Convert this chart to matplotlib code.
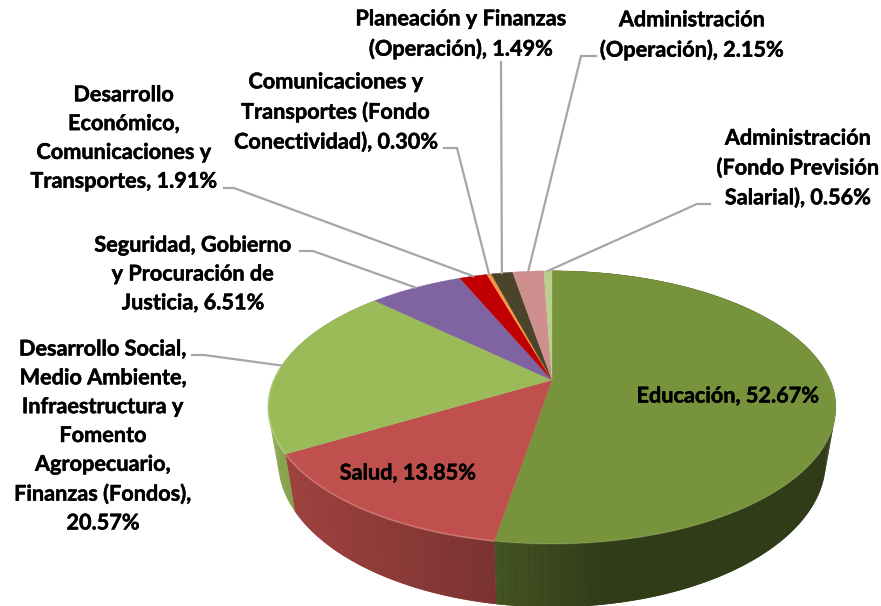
import numpy as np
import matplotlib
matplotlib.use('Agg')
import matplotlib.pyplot as plt
import matplotlib.colors as mc
import matplotlib.patheffects as pe

plt.rcParams['font.family'] = ['Lato', 'DejaVu Sans']

# datos del pastel, en sentido horario desde arriba
sectores = ['Educación', 'Salud', 'Desarrollo Social', 'Seguridad', 'Desarrollo Económico',
            'Comunicaciones Fondo', 'Planeación', 'Administración Op', 'Administración Fondo']
valores = [52.67, 13.85, 20.57, 6.51, 1.91, 0.30, 1.49, 2.15, 0.56]
colores = ['#77933C', '#C0504D', '#9BBB59', '#8064A2', '#C00000',
           '#F79646', '#4A452A', '#CF8F8F', '#B9CF8E']
etiquetas = [
    'Educación, 52.67%',
    'Salud, 13.85%',
    'Desarrollo Social,\nMedio Ambiente,\nInfraestructura y\nFomento\nAgropecuario,\nFinanzas (Fondos),\n20.57%',
    'Seguridad, Gobierno\ny Procuración de\nJusticia, 6.51%',
    'Desarrollo\nEconómico,\nComunicaciones y\nTransportes, 1.91%',
    'Comunicaciones y\nTransportes (Fondo\nConectividad), 0.30%',
    'Planeación y Finanzas\n(Operación), 1.49%',
    'Administración\n(Operación), 2.15%',
    'Administración\n(Fondo Previsión\nSalarial), 0.56%',
]
pos_etiqueta = [(728, 396), (408, 473), (103, 436), (193, 274), (124, 138),
                (336, 112), (461, 34), (692, 35), (798, 168)]
# codo de cada linea guia: inicio, quiebre
codos = [None, None, ((192, 355), (204, 355)), ((300, 251), (313, 251)), ((224, 188), (234, 188)),
         ((444, 148), (457, 148)), ((501, 62), (501, 62)), ((596, 56), (581, 56)), ((710, 204), (697, 204))]

cx, cy = 552, 380
A, B, k = 278, 131, 0.2
s_x, s_y, prof = 0.965, 1.07, 52


def proyecta(ang, base=False):
    # circulo -> elipse con perspectiva, ang en radianes desde arriba
    u, v = np.sin(ang), -np.cos(ang)
    x = A * u / (1 - k * v)
    y = B * v / (1 - k * v)
    if base:
        return cx + s_x * x, cy + s_y * y + prof
    return cx + x, cy + y


def sombra(i, nx):
    # factor de oscurecimiento de la pared lateral
    if i == 0:
        return np.clip(0.57 - 0.42 * (nx + 0.2), 0.40, 1)
    f = 0.63 - 0.27 * (nx + 0.2)
    return f * 1.05 if i == 2 else f


fig = plt.figure(figsize=(8.81, 6.06), dpi=100)
ax = fig.add_axes([0, 0, 1, 1])
ax.set_xlim(0, 881)
ax.set_ylim(606, 0)
ax.axis('off')

bordes = np.r_[0, np.cumsum(valores)] / np.sum(valores) * 2 * np.pi
medios = (bordes[:-1] + bordes[1:]) / 2

# pared lateral: fondo liso y encima tiras sombreadas
for i in (0, 1, 2):
    ts = np.linspace(bordes[i], bordes[i + 1], int((bordes[i + 1] - bordes[i]) * 50) + 2)
    xa, ya = proyecta(ts)
    xb, yb = proyecta(ts[::-1], base=True)
    nx_m = (proyecta(medios[i])[0] - cx) / 284
    fondo = np.array(mc.to_rgb(colores[i])) * sombra(i, nx_m)
    ax.fill(np.r_[xa, xb], np.r_[ya, yb], color=fondo, lw=0, zorder=2)
    for a0, a1 in zip(ts[:-1], ts[1:]):
        xa, ya = proyecta(np.array([a0, a1]))
        xb, yb = proyecta(np.array([a1, a0]), base=True)
        nx = (xa.mean() - cx) / 284
        rgb = np.array(mc.to_rgb(colores[i])) * sombra(i, nx)
        ax.fill(np.r_[xa, xb], np.r_[ya, yb], color=rgb, lw=0, zorder=2.1)

# cara superior
for i, col in enumerate(colores):
    ts = np.linspace(bordes[i], bordes[i + 1], 120)
    xs, ys = proyecta(ts)
    ax.fill(np.r_[cx, xs], np.r_[cy, ys], color=col, lw=0.3, zorder=3)
    # brillo del borde frontal
    if i in (0, 1, 2):
        frente = ts[np.cos(ts) < 0.1]
        xr, yr = proyecta(frente)
        claro = np.array(mc.to_rgb(col)) * 0.75 + 0.25
        ax.plot(xr, yr, color=claro, lw=1.2, alpha=0.3 if i == 0 else 0.8, zorder=4,
                solid_capstyle='butt')

# lineas guia
for i, codo in enumerate(codos):
    if codo is None:
        continue
    xe, ye = proyecta(medios[i])
    ax.plot([codo[0][0], codo[1][0], xe], [codo[0][1], codo[1][1], ye],
            color='#A6A6A6', lw=1.6, zorder=5, solid_joinstyle='miter')

# textos
for txt, (x, y) in zip(etiquetas, pos_etiqueta):
    ax.text(x, y, txt, ha='center', va='center', fontsize=15.6, fontweight='bold',
            color='black', linespacing=1.46, zorder=6,
            path_effects=[pe.withStroke(linewidth=0.35, foreground='black')])

fig.savefig('out.png', dpi=100)
